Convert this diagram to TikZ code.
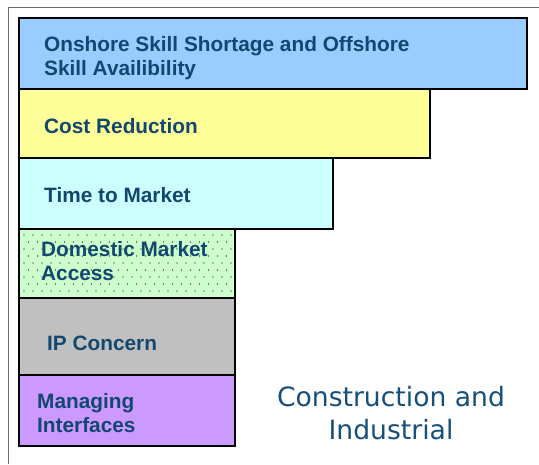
\documentclass[tikz,border=0pt]{standalone}
\usepackage{fontspec}
\setmainfont{Liberation Sans}
\newfontfamily\dvsans{DejaVu Sans}
\usetikzlibrary{calc}
\definecolor{txtblue}{RGB}{18,72,112}
\definecolor{capblue}{RGB}{22,80,122}
\definecolor{cblue}{HTML}{99CCFF}
\definecolor{cyellow}{HTML}{FFFF99}
\definecolor{ccyan}{HTML}{CCFFFF}
\definecolor{cgreen}{HTML}{CCFFCC}
\definecolor{cgray}{HTML}{C0C0C0}
\definecolor{cpurple}{HTML}{CC99FF}
\definecolor{framegray}{RGB}{110,110,110}
\begin{document}
\begin{tikzpicture}[x=1pt,y=-1pt,
  bar/.style={draw=black, line width=2.8pt, inner sep=0pt, outer sep=0pt, anchor=north west},
  lbl/.style={anchor=west, inner sep=0pt, text=txtblue, font=\fontsize{20.8}{24}\selectfont\bfseries, align=left},
  caption/.style={text=capblue, font=\dvsans\fontsize{26.6}{33}\selectfont, align=center, inner sep=0pt}]
\useasboundingbox (0,0) rectangle (539,464);
\fill[white] (0,0) rectangle (539,464);
% outer frame
\coordinate (ftop) at (539,7);
\coordinate (fcorner) at (8.5,7);
\coordinate (fbot) at (8.5,464);
\draw[framegray, line width=1pt] (ftop) -- (fcorner) -- (fbot);
% bars
\node[bar, fill=cblue, minimum width=508pt, minimum height=71pt] (b1) at (19,18) {};
\node[bar, fill=cyellow, minimum width=411pt, minimum height=69pt] (b2) at (19,89) {};
\node[bar, fill=ccyan, minimum width=314pt, minimum height=71pt] (b3) at (19,158) {};
\node[bar, fill=cgreen, minimum width=216pt, minimum height=69pt] (b4) at (19,229) {};
\node[bar, fill=cgray, minimum width=216pt, minimum height=77pt] (b5) at (19,298) {};
\node[bar, fill=cpurple, minimum width=216pt, minimum height=71pt] (b6) at (19,375) {};
% dots in green bar
\begin{scope}
\clip (21,231) rectangle (233,296);
\foreach \r in {0,...,9} {
  \foreach \c in {0,...,24} {
    \pgfmathsetmacro{\xx}{24+\c*9+mod(\r,2)*4.5}
    \pgfmathsetmacro{\yy}{235+\r*7}
    \fill[black] (\xx,\yy) circle (0.6pt);
  }
}
\end{scope}
\draw[black, line width=2.8pt] (b4.north west) rectangle (b4.south east);
% labels
\node[lbl] (t1) at (44,58) {Onshore Skill Shortage and Offshore\\Skill Availibility};
\node[lbl] (t2) at (44,126) {Cost Reduction};
\node[lbl] (t3) at (44,195) {Time to Market};
\node[lbl] (t4) at (41,261) {Domestic Market\\Access};
\node[lbl] (t5) at (47,343) {IP Concern};
\node[lbl] (t6) at (37,413) {Managing\\Interfaces};
\node[caption] (cap) at (391,413) {Construction and\\Industrial};
\end{tikzpicture}
\end{document}
